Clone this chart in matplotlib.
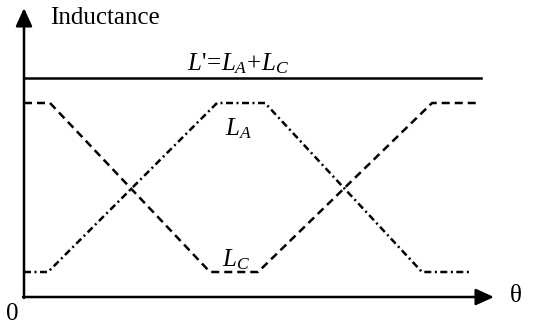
import matplotlib.pyplot as plt

plt.rcParams['font.family'] = ['Liberation Serif', 'DejaVu Serif']
plt.rcParams['mathtext.fontset'] = 'custom'
plt.rcParams['mathtext.it'] = 'Liberation Serif:italic'
plt.rcParams['mathtext.rm'] = 'Liberation Serif'

# inductance levels
L_min = 0.25
L_max = 1.94
L_sum = L_min + L_max

# phase C inductance (dashed)
theta_c = [0, 0.26, 1.86, 2.34, 4.08, 4.54]
L_c = [L_max, L_max, L_min, L_min, L_max, L_max]

# phase A inductance (dash-dot)
theta_a = [0, 0.24, 1.93, 2.41, 3.98, 4.46]
L_a = [L_min, L_min, L_max, L_max, L_min, L_min]

theta_end = 4.57

fig = plt.figure(figsize=(5.34, 3.32), dpi=100)
ax = fig.add_axes([0, 0, 1, 1])
ax.set_xlim(-0.24, 5.10)
ax.set_ylim(-0.35, 2.97)
ax.axis('off')

lw = 1.8
ax.plot([0, theta_end], [L_sum, L_sum], color='black', lw=lw)
ax.plot(theta_c, L_c, color='black', lw=lw, linestyle=(0, (3.2, 2.0)))
ax.plot(theta_a, L_a, color='black', lw=lw, linestyle=(0, (2.8, 1.4, 0.8, 1.4)))

# axes with arrow heads
arrow = dict(arrowstyle='-|>,head_length=1.1,head_width=0.5', color='black', lw=lw,
             shrinkA=0, shrinkB=0)
ax.annotate('', xy=(4.70, 0), xytext=(-0.01, 0), arrowprops=arrow)
ax.annotate('', xy=(0, 2.89), xytext=(0, -0.01), arrowprops=arrow)

ax.text(0.26, 2.79, 'Inductance', fontsize=18, ha='left', va='center')
ax.text(4.86, 0.01, 'θ', fontsize=18, ha='left', va='center')
ax.text(-0.12, -0.17, '0', fontsize=18, ha='center', va='center')

ax.text(2.14, 2.33, "$L\\text{'}\\!=\\!L_A\\!+\\!L_C$", fontsize=18, ha='center', va='center')
ax.text(2.14, 1.68, '$L_A$', fontsize=18, ha='center', va='center')
ax.text(2.12, 0.37, '$L_C$', fontsize=18, ha='center', va='center')

fig.savefig('out.png', dpi=100)
